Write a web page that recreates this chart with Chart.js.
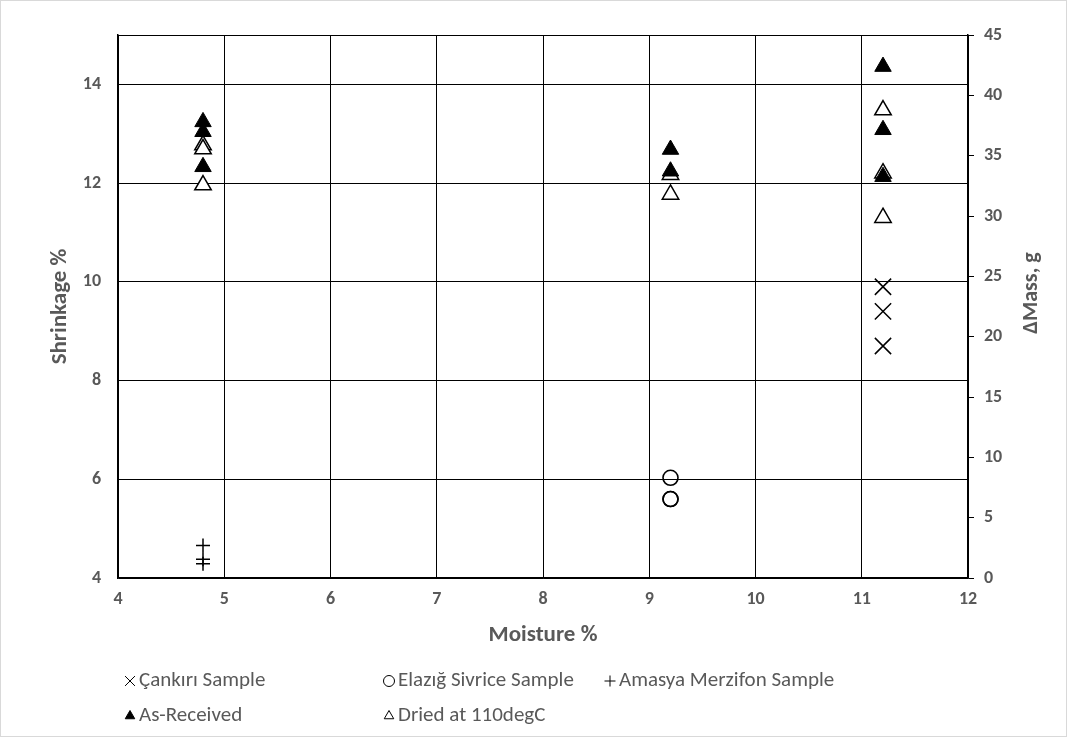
<!DOCTYPE html>
<html>
<head>
<meta charset="utf-8">
<title>Shrinkage vs Moisture</title>
<script src="https://cdn.jsdelivr.net/npm/chart.js@4.4.1/dist/chart.umd.min.js"></script>
<style>
  html, body { margin: 0; padding: 0; background: #fff; }
  #wrap { width: 1067px; height: 737px; }
</style>
</head>
<body>
<div id="wrap"><canvas id="shrinkChart" width="1067" height="737"></canvas></div>
<script>
// values
const cankiriX = [11.2, 11.2, 11.2];
const cankiriY = [9.9, 9.4, 8.7];

const elazigX = [9.2, 9.2, 9.2];
const elazigY = [6.03, 5.6, 5.6];

const amasyaX = [4.8, 4.8, 4.8];
const amasyaY = [4.66, 4.38, 4.29];

const asReceivedX = [4.8, 4.8, 4.8, 9.2, 9.2, 11.2, 11.2, 11.2];
const asReceivedY = [13.24, 13.04, 12.33, 12.68, 12.24, 14.36, 13.08, 12.13];

const driedX = [4.8, 4.8, 4.8, 9.2, 9.2, 11.2, 11.2, 11.2];
const driedY = [12.77, 12.69, 11.96, 12.17, 11.77, 13.48, 12.2, 11.3];

const shrinkTicks = [4, 6, 8, 10, 12, 14, 15];

const FONT = 'Carlito, Calibri, Lato, sans-serif';
const GREY = "#595959";

function toPoints(xs, ys) {
  return xs.map((x, i) => ({ x: x, y: ys[i] }));
}

// legend laid out in fixed columns, like the spreadsheet one
const legendCols = [130, 389, 610];
const legendRows = [681, 716];

const legendPlugin = {
  id: "columnLegend",
  beforeDraw(chart) {
    const ctx = chart.ctx;
    ctx.save();
    ctx.fillStyle = "#fff";
    ctx.fillRect(0, 0, chart.width, chart.height);
    ctx.strokeStyle = "#d9d9d9";
    ctx.lineWidth = 1;
    ctx.strokeRect(0.5, 0.5, chart.width - 1, chart.height - 1);
    ctx.restore();
  },
  afterDraw(chart) {
    const ctx = chart.ctx;
    ctx.save();
    ctx.font = "21px " + FONT;
    ctx.textBaseline = "middle";
    ctx.textAlign = "left";
    chart.data.datasets.forEach((ds, i) => {
      const col = i < 3 ? i : i - 3;
      const row = i < 3 ? 0 : 1;
      const mx = legendCols[col];
      const my = legendRows[row];
      ctx.strokeStyle = "#000";
      ctx.fillStyle = ds.pointBackgroundColor;
      const r = ds.pointStyle === "crossRot" ? 7 : 5.5;
      Chart.helpers.drawPoint(ctx, {
        pointStyle: ds.pointStyle,
        radius: r,
        rotation: 0,
        borderWidth: 1.3
      }, mx, my);
      ctx.fillStyle = GREY;
      ctx.fillText(ds.label, mx + 9, my);
    });

    // right axis title reads bottom to top
    ctx.font = "bold 22px " + FONT;
    ctx.fillStyle = GREY;
    ctx.textAlign = "center";
    ctx.translate(1031, 293);
    ctx.rotate(-Math.PI / 2);
    ctx.fillText("\u0394Mass, g", 0, 0);
    ctx.restore();
  }
};

function renderChart() {
  const ctx = document.getElementById("shrinkChart").getContext("2d");

  new Chart(ctx, {
    type: "scatter",
    data: {
      datasets: [
        {
          label: "Çankırı Sample",
          data: toPoints(cankiriX, cankiriY),
          pointStyle: "crossRot",
          pointRadius: 11.5,
          pointBorderWidth: 1.5,
          pointBorderColor: "#000",
          pointBackgroundColor: "#000"
        },
        {
          label: "Elazığ Sivrice Sample",
          data: toPoints(elazigX, elazigY),
          pointStyle: "circle",
          pointRadius: 7.5,
          pointBorderWidth: 1.6,
          pointBorderColor: "#000",
          pointBackgroundColor: "rgba(255,255,255,0)"
        },
        {
          label: "Amasya Merzifon Sample",
          data: toPoints(amasyaX, amasyaY),
          pointStyle: "cross",
          pointRadius: 7,
          pointBorderWidth: 1.5,
          pointBorderColor: "#000",
          pointBackgroundColor: "#000"
        },
        {
          label: "As-Received",
          data: toPoints(asReceivedX, asReceivedY),
          pointStyle: "triangle",
          pointRadius: 9.5,
          pointBorderWidth: 1,
          pointBorderColor: "#000",
          pointBackgroundColor: "#000"
        },
        {
          label: "Dried at 110degC",
          data: toPoints(driedX, driedY),
          pointStyle: "triangle",
          pointRadius: 9.5,
          pointBorderWidth: 1.5,
          pointBorderColor: "#000",
          pointBackgroundColor: "#fff"
        }
      ]
    },
    options: {
      responsive: false,
      animation: false,
      events: [],
      layout: {
        padding: { top: 35, bottom: 79, left: 0, right: 0 }
      },
      plugins: {
        legend: { display: false },
        tooltip: { enabled: false }
      },
      scales: {
        x: {
          type: "linear",
          position: "bottom",
          min: 4,
          max: 12,
          ticks: {
            stepSize: 1,
            color: GREY,
            padding: 11,
            font: { family: FONT, size: 18, weight: "bold" }
          },
          grid: { color: "#000", lineWidth: 1, drawTicks: false },
          border: { color: "#000", width: 1.5 },
          title: {
            display: true,
            text: "Moisture %",
            color: GREY,
            padding: { top: 0, bottom: 9 },
            font: { family: FONT, size: 23, weight: "bold" }
          },
          afterFit: scale => { scale.height = 80; }
        },
        y: {
          type: "linear",
          position: "left",
          min: 4,
          max: 15,
          afterBuildTicks: scale => {
            scale.ticks = shrinkTicks.map(v => ({ value: v }));
          },
          ticks: {
            color: GREY,
            padding: 17,
            font: { family: FONT, size: 18, weight: "bold" },
            callback: v => (v === 15 ? "" : v)
          },
          grid: { color: "#000", lineWidth: 1, drawTicks: false },
          border: { color: "#000", width: 1.5 },
          title: {
            display: true,
            text: "Shrinkage %",
            color: GREY,
            padding: { top: 46, bottom: 0 },
            font: { family: FONT, size: 23, weight: "bold" }
          },
          afterFit: scale => { scale.width = 118; }
        },
        y1: {
          type: "linear",
          position: "right",
          min: 0,
          max: 45,
          ticks: {
            stepSize: 5,
            color: GREY,
            padding: 10,
            font: { family: FONT, size: 18, weight: "bold" }
          },
          grid: {
            drawOnChartArea: false,
            drawTicks: true,
            tickLength: 6,
            color: "#000",
            lineWidth: 1
          },
          border: { color: "#000", width: 1.5 },
          afterFit: scale => { scale.width = 99; }
        }
      }
    },
    plugins: [legendPlugin]
  });
}

document.addEventListener("DOMContentLoaded", renderChart);
</script>
</body>
</html>
